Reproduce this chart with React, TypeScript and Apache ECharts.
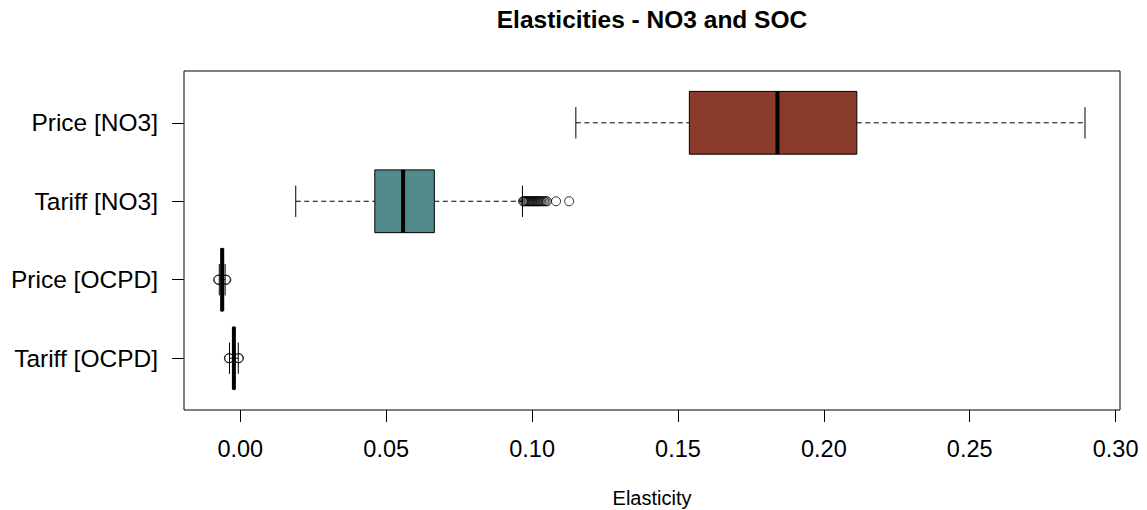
import React, { useEffect, useRef } from "react";
import * as echarts from "echarts";

const categories = ["Tariff [OCPD]", "Price [OCPD]", "Tariff [NO3]", "Price [NO3]"];
const lowWhisker = [-0.0037, -0.0072, 0.019, 0.115];
const q1Values = [-0.0024, -0.0066, 0.0461, 0.1539];
const medianValues = [-0.0022, -0.0062, 0.0558, 0.1841];
const q3Values = [-0.002, -0.0059, 0.0665, 0.2113];
const highWhisker = [-0.0007, -0.0052, 0.0967, 0.2895];
const boxColors = ["#528B8B", "#8B3B2C", "#528B8B", "#8B3B2C"];

const outliersTariffOCPD = [-0.0039, -0.0038, -0.0006, -0.0005];
const outliersPriceOCPD = [-0.0076, -0.0074, -0.005, -0.0048];
const outliersTariffNO3 = [
  0.0969, 0.0972, 0.0976, 0.0979, 0.0983, 0.0987, 0.099, 0.0994, 0.0998, 0.1001,
  0.1004, 0.1008, 0.1012, 0.1016, 0.1019, 0.1023, 0.1027, 0.1031, 0.1036, 0.1041,
  0.1046, 0.1051, 0.1082, 0.1127,
];
const outliersPriceNO3: number[] = [];

const xTicks = [0, 0.05, 0.1, 0.15, 0.2, 0.25, 0.3];
const yTicks = [1, 2, 3, 4];

const FONT = "'Liberation Sans', Arial, sans-serif";

export default function App() {
  const ref = useRef<HTMLDivElement>(null);

  useEffect(() => {
    if (!ref.current) return;
    const chart = echarts.init(ref.current, undefined, { renderer: "svg" });

    const boxData = categories.map((_, i) => [
      i + 1,
      lowWhisker[i],
      q1Values[i],
      medianValues[i],
      q3Values[i],
      highWhisker[i],
    ]);

    const outlierGroups = [outliersTariffOCPD, outliersPriceOCPD, outliersTariffNO3, outliersPriceNO3];
    const outlierData: number[][] = [];
    outlierGroups.forEach((arr, i) => arr.forEach((v) => outlierData.push([v, i + 1])));

    const option: any = {
      animation: false,
      backgroundColor: "#fff",
      grid: {
        left: 184,
        right: 27,
        top: 71,
        bottom: 100,
        show: true,
        borderColor: "#000",
        borderWidth: 1,
        backgroundColor: "transparent",
      },
      xAxis: {
        type: "value",
        min: -0.0193,
        max: 0.3015,
        splitLine: { show: false },
        axisLine: { show: false, onZero: false },
        axisTick: {
          show: true,
          length: 12,
          lineStyle: { color: "#000", width: 1 },
          customValues: xTicks,
        },
        axisLabel: {
          customValues: xTicks,
          margin: 27,
          fontSize: 23.5,
          fontFamily: FONT,
          color: "#000",
          formatter: (v: number) => v.toFixed(2),
        },
      },
      yAxis: {
        type: "value",
        min: 0.34,
        max: 4.66,
        splitLine: { show: false },
        axisLine: { show: false, onZero: false },
        axisTick: {
          show: true,
          length: 12,
          lineStyle: { color: "#000", width: 1 },
          customValues: yTicks,
        },
        axisLabel: {
          customValues: yTicks,
          margin: 26,
          fontSize: 24.5,
          fontFamily: FONT,
          color: "#000",
          formatter: (v: number) => categories[Math.round(v) - 1] || "",
        },
      },
      graphic: [
        {
          type: "text",
          x: 652,
          y: 19,
          style: {
            text: "Elasticities - NO3 and SOC",
            fontSize: 24.5,
            fontWeight: "bold",
            fontFamily: FONT,
            fill: "#000",
            textAlign: "center",
            textVerticalAlign: "middle",
          },
        },
        {
          type: "text",
          x: 652,
          y: 498,
          style: {
            text: "Elasticity",
            fontSize: 20,
            fontFamily: FONT,
            fill: "#000",
            textAlign: "center",
            textVerticalAlign: "middle",
          },
        },
      ],
      series: [
        {
          type: "custom",
          data: boxData,
          encode: { x: [1, 2, 3, 4, 5], y: 0 },
          renderItem: (params: any, api: any) => {
            const pos = api.value(0);
            const idx = params.dataIndex;
            const pLow = api.coord([api.value(1), pos]);
            const pQ1 = api.coord([api.value(2), pos]);
            const pMed = api.coord([api.value(3), pos]);
            const pQ3 = api.coord([api.value(4), pos]);
            const pHigh = api.coord([api.value(5), pos]);
            const half = api.size([0, 0.8])[1] / 2;
            const cy = pMed[1];
            const dash = { stroke: "#000", lineWidth: 1, lineDash: [5, 3.5] };
            const solid = { stroke: "#000", lineWidth: 1 };
            return {
              type: "group",
              children: [
                { type: "line", shape: { x1: pLow[0], y1: cy, x2: pQ1[0], y2: cy }, style: dash },
                { type: "line", shape: { x1: pQ3[0], y1: cy, x2: pHigh[0], y2: cy }, style: dash },
                { type: "line", shape: { x1: pLow[0], y1: cy - half / 2, x2: pLow[0], y2: cy + half / 2 }, style: solid },
                { type: "line", shape: { x1: pHigh[0], y1: cy - half / 2, x2: pHigh[0], y2: cy + half / 2 }, style: solid },
                {
                  type: "rect",
                  shape: { x: pQ1[0], y: cy - half, width: pQ3[0] - pQ1[0], height: half * 2 },
                  style: { fill: boxColors[idx], stroke: "#000", lineWidth: 1 },
                },
                {
                  type: "line",
                  shape: { x1: pMed[0], y1: cy - half, x2: pMed[0], y2: cy + half },
                  style: { stroke: "#000", lineWidth: 4 },
                },
              ],
            };
          },
          z: 2,
        },
        {
          type: "scatter",
          data: outlierData,
          symbol: "circle",
          symbolSize: 9,
          itemStyle: { color: "transparent", borderColor: "#000", borderWidth: 1 },
          z: 3,
        },
      ],
    };

    chart.setOption(option);
    return () => chart.dispose();
  }, []);

  return (
    <div
      ref={ref}
      style={{ position: "fixed", left: 0, top: 0, width: 1147, height: 510 }}
    />
  );
}
